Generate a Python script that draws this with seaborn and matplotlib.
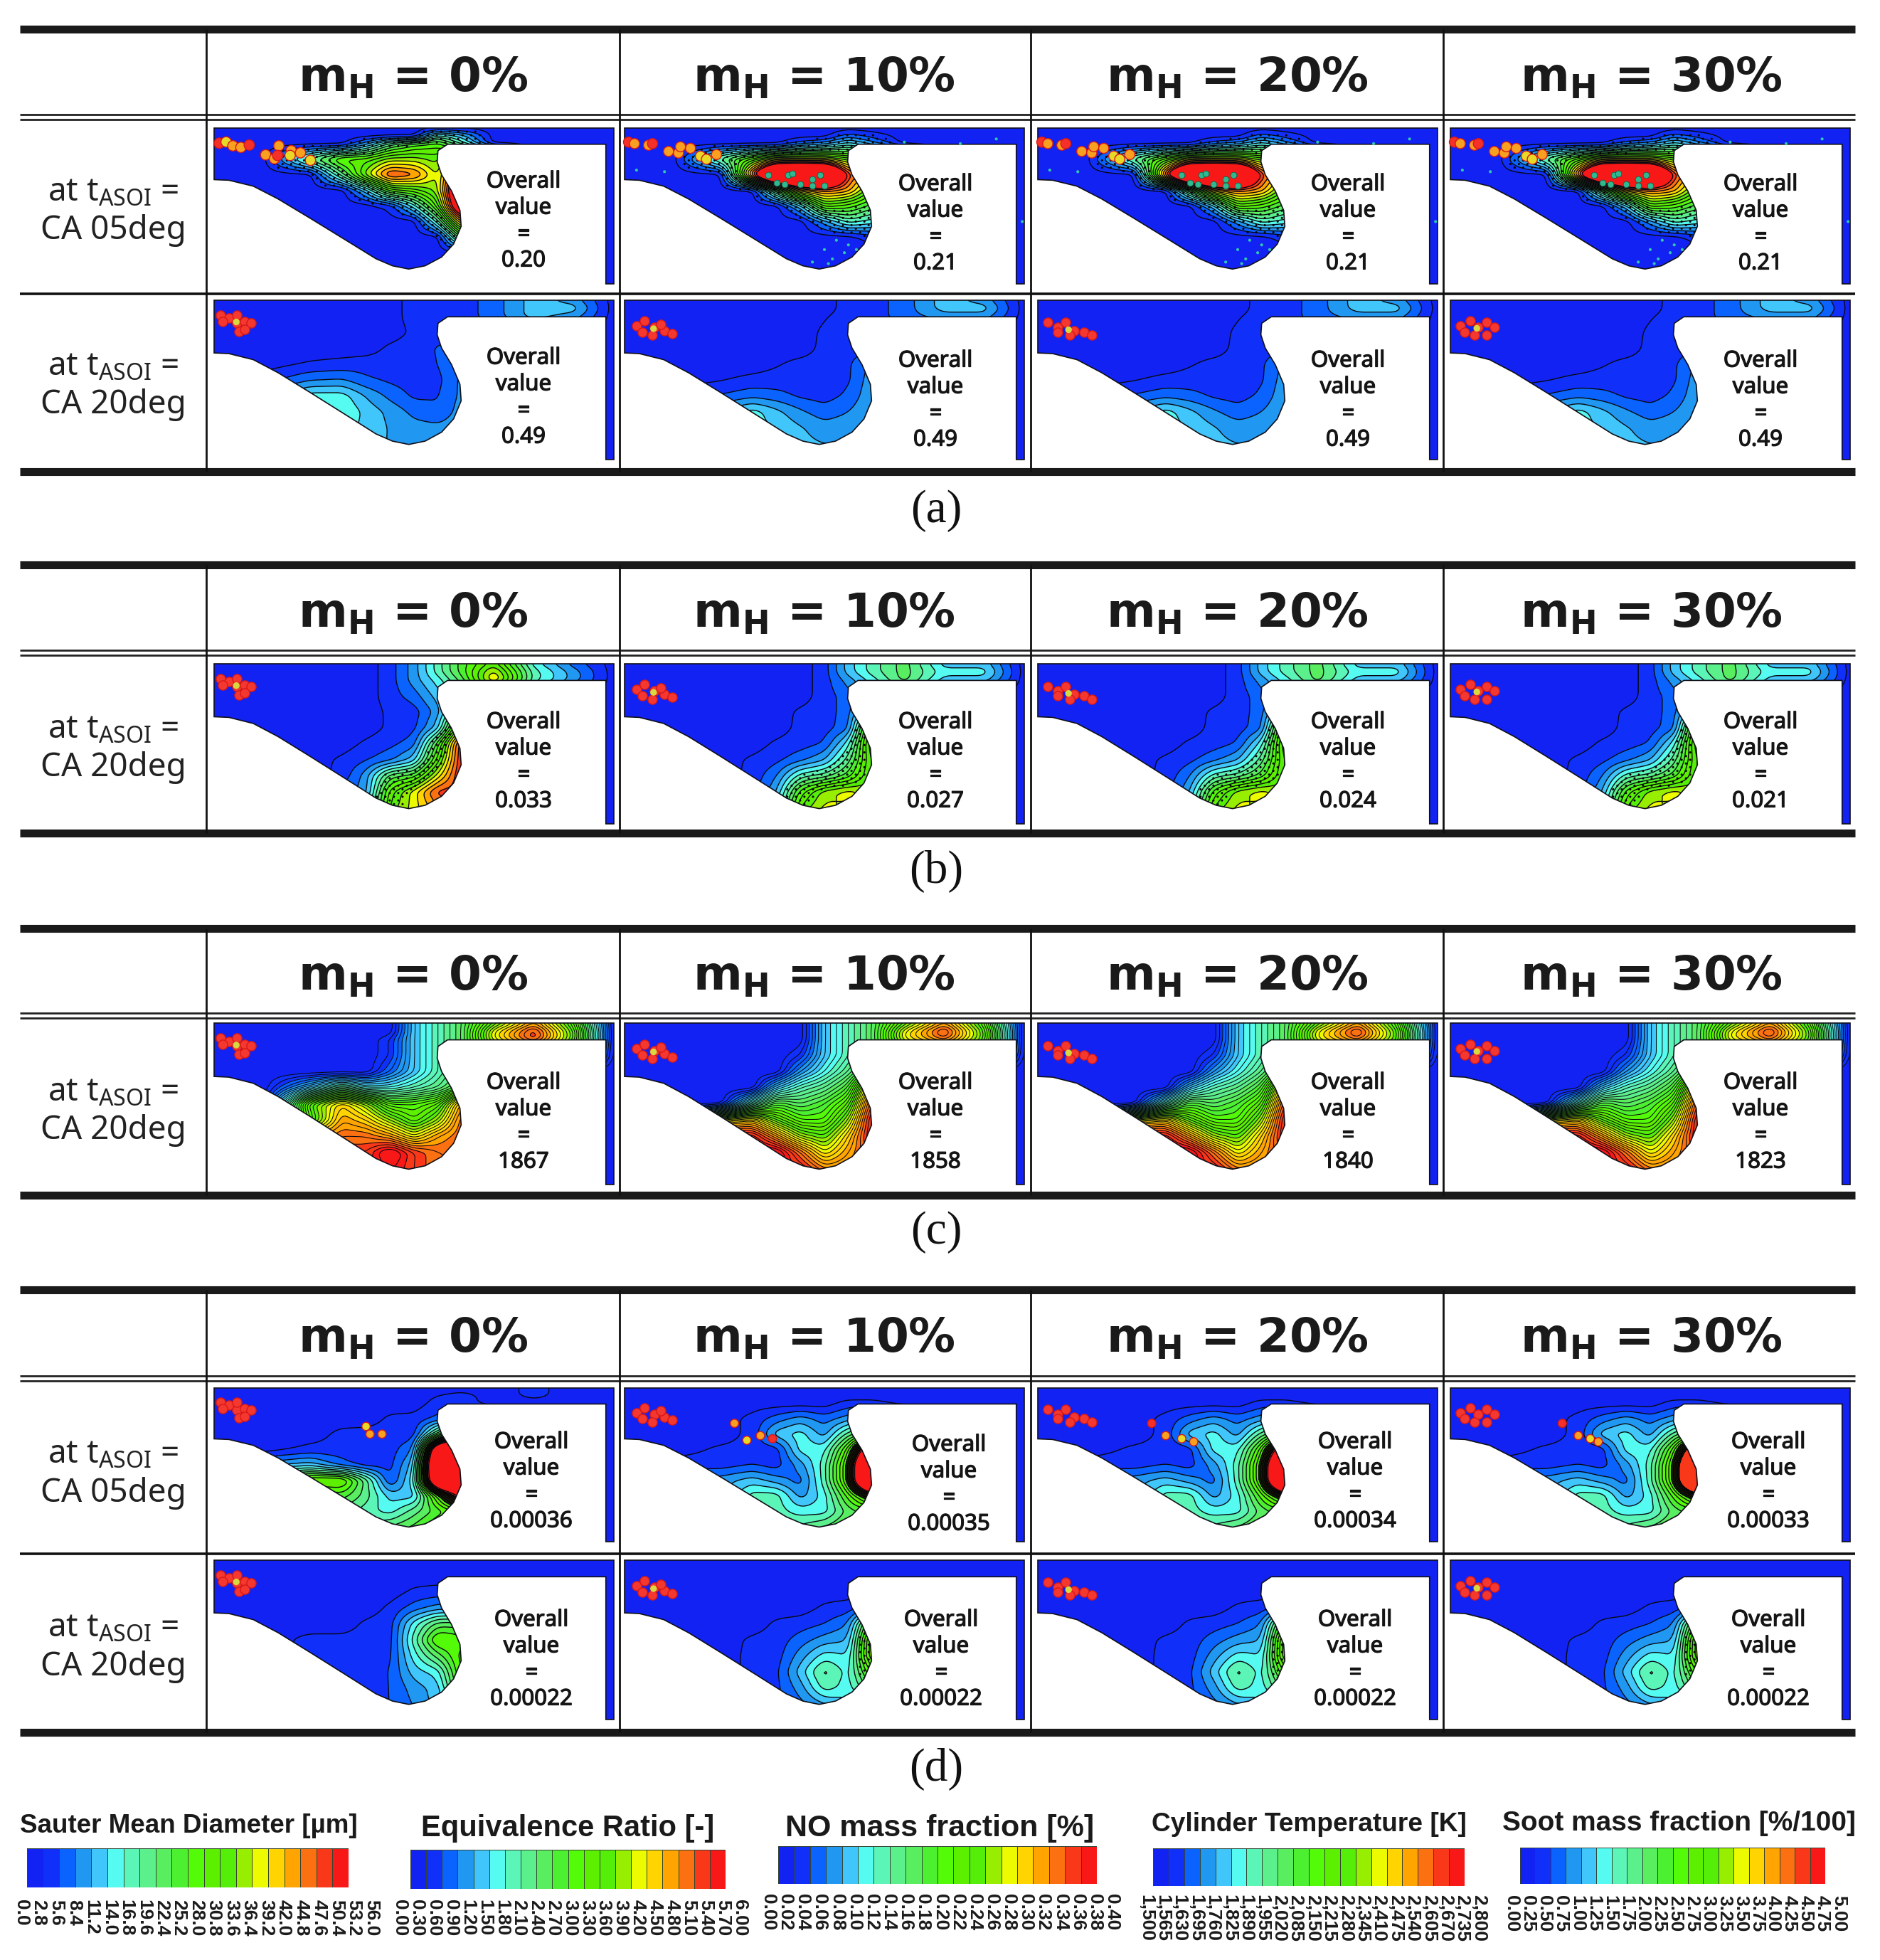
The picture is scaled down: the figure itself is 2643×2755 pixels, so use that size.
import numpy as np
import matplotlib
matplotlib.use("Agg")
import matplotlib.pyplot as plt
import matplotlib.patheffects as pe
from matplotlib.colors import ListedColormap
from matplotlib.patches import Polygon
import seaborn as sns

sns.set_theme(style="white")
plt.rcParams['font.family'] = ['Noto Sans', 'DejaVu Sans']
plt.rcParams['mathtext.fontset'] = 'custom'
plt.rcParams['mathtext.rm'] = 'Noto Sans'

# ---------- data ----------
HEADERS = ["0%", "10%", "20%", "30%"]
ROW_ANGLES = {"a1": "05", "a2": "20", "b": "20", "c": "20", "d1": "05", "d2": "20"}
OVERALL_A1 = ["0.20", "0.21", "0.21", "0.21"]
OVERALL_A2 = ["0.49", "0.49", "0.49", "0.49"]
OVERALL_B = ["0.033", "0.027", "0.024", "0.021"]
OVERALL_C = ["1867", "1858", "1840", "1823"]
OVERALL_D1 = ["0.00036", "0.00035", "0.00034", "0.00033"]
OVERALL_D2 = ["0.00022", "0.00022", "0.00022", "0.00022"]

LEVEL_COLORS = ["#1222f2", "#1030fa", "#0a62ff", "#2098f2", "#40c6fb", "#55fbf0", "#5cf5b8",
                "#5cf08c", "#58ee60", "#4cf030", "#54fb08", "#5cf000", "#54ee08", "#98ee00",
                "#ecfb00", "#ffd400", "#ffa400", "#fb7010", "#f83818", "#f81818"]

U_GRID = [0, .12, .24, .32, .38, .44, .50, .56, .62, .70, .80, .90, 1.0]
V_GRID = [0, .05, .10, .20, .30, .40, .50, .60, .70, .80, .92]

A1_BASE = [[0]*13,
           [0, 0, 0, 0, 0, 0, 0, 6, 4, 0, 0, 0, 0],
           [0, 0, 0, 0, 3, 7, 9, 10, 6, 0, 0, 0, 0],
           [0, 0, 7, 11, 11, 13, 13, 12, 19, 19, 0, 0, 0],
           [0, 0, 0, 7, 13, 18, 17, 13, 22, 22, 0, 0, 0],
           [0, 0, 0, 0, 4, 10, 11, 13, 26, 26, 0, 0, 0],
           [0, 0, 0, 0, 0, .8, 5, 11, 24, 24, 0, 0, 0],
           [0, 0, 0, 0, 0, 0, 0, 6, 16, 16, 0, 0, 0],
           [0, 0, 0, 0, 0, 0, 0, 0, 9, 9, 0, 0, 0],
           [0]*13, [0]*13]
A1_H2 = [[0]*13,
         [0, 0, 0, 0, 0, 0, 0, 2, 1, 0, 0, 0, 0],
         [0, 0, 0, 0, 0, 2, 3, 5, 3, 0, 0, 0, 0],
         [0, 0, 7, 11, 14, 14, 14, 12, 12, 12, 0, 0, 0],
         [0, 0, 0, 18, 30, 32, 30, 18, 14, 14, 0, 0, 0],
         [0, 0, 0, 0, 8, 15, 17, 16, 11, 11, 0, 0, 0],
         [0, 0, 0, 0, 0, 4, 11, 10, 8, 8, 0, 0, 0],
         [0, 0, 0, 0, 0, 0, 3, 6, 5, 5, 0, 0, 0],
         [0, 0, 0, 0, 0, 0, 0, 0, 1, 1, 0, 0, 0],
         [0]*13, [0]*13]
A2_BASE = [[0, 0, 0, 0, 0, 0, 1, 1, 1, 2, 4, 3, 0],
           [0, 0, 0, 0, 0, 0, 1, 1, 1, 2, 4, 4, 0],
           [0, 0, 0, 0, 0, 0, 1, 1, 1, 2, 4, 3, 0],
           [0, 0, 0, 0, 0, 0, .7, 1, 1, 1, 1, 1, 0],
           [0, 0, 0, 0, 0, .7, 1, 1.6, 2, 2, 0, 0, 0],
           [0, 0, .6, .8, 1, 1, 1, 1.5, 2.6, 2.6, 0, 0, 0],
           [0, 1, 2.4, 2.6, 1.7, 1.3, 1, 1.2, 2.8, 2.8, 0, 0, 0],
           [0, 3, 5, 5, 3.4, 2.2, 1.3, 1.4, 2.8, 2.8, 0, 0, 0],
           [0, 3, 6, 5.5, 4.2, 3.2, 2.2, 1.7, 3, 3, 0, 0, 0],
           [0, 3, 5, 5, 4.2, 3.4, 2.9, 2.8, 3.2, 3.2, 0, 0, 0],
           [0, 3, 4, 4, 4, 3.4, 3.2, 3.2, 3.2, 3.2, 0, 0, 0]]
A2_H2 = [[0, 0, 0, 0, 0, 0, 0, 1, 1, 2, 4, 3, 0],
         [0, 0, 0, 0, 0, 0, 0, 1, 1, 2, 4, 4, 0],
         [0, 0, 0, 0, 0, 0, .4, 1, 1, 2, 3, 3, 0],
         [0, 0, 0, 0, 0, 0, .7, .9, 1, 1, 1, 1, 0],
         [0, 0, 0, 0, 0, 0, .8, 1, 1.3, 1.3, 0, 0, 0],
         [0, 0, 0, 0, .4, .8, .9, 1.3, 2.8, 2.8, 0, 0, 0],
         [0, 0, .4, .8, .9, 1, 1, 1.3, 3.2, 3.2, 0, 0, 0],
         [0, 1, 1.6, 2.2, 1.9, 1.3, 1.1, 1.7, 3.4, 3.4, 0, 0, 0],
         [0, 3, 3.5, 5, 3.8, 2.7, 1.9, 2.5, 3.6, 3.6, 0, 0, 0],
         [0, 3, 4, 5, 4.4, 3.6, 3, 3.2, 3.8, 3.8, 0, 0, 0],
         [0, 3, 4, 4.6, 4.2, 3.8, 3.6, 3.6, 3.8, 3.8, 0, 0, 0]]
B_BASE = [[0, 0, 0, 0, 0, 1, 3, 6, 9, 12, 5, 2, 0],
          [0, 0, 0, 0, 0, 1, 3, 6, 9, 14, 6, 3, 0],
          [0, 0, 0, 0, 0, 1, 3, 5, 8, 15, 6, 3, 0],
          [0, 0, 0, 0, 0, 1, 2, 4, 6, 6, 3, 0, 0],
          [0, 0, 0, 0, 0, .7, 1, 3, 9, 9, 0, 0, 0],
          [0, 0, 0, 0, 0, .7, 1.2, 4, 14, 14, 0, 0, 0],
          [0, 0, 0, 0, .7, 1.2, 2, 9, 19, 19, 0, 0, 0],
          [0, 0, 0, .7, 1.4, 2.2, 4, 11, 19, 19, 0, 0, 0],
          [0, 0, 0, .8, 3, 8, 9, 14, 19, 19, 0, 0, 0],
          [0, 0, 0, 2, 3, 11, 14, 18, 18, 18, 0, 0, 0],
          [0, 0, 0, 2, 5, 12, 14, 16, 16, 16, 0, 0, 0]]
B_H2 = [[0, 0, 0, 0, 0, 0, 1, 4, 6, 8, 4, 4, 0],
        [0, 0, 0, 0, 0, 0, 1, 4, 6, 8, 5, 5, 0],
        [0, 0, 0, 0, 0, 0, 1, 3, 5, 8, 4, 4, 0],
        [0, 0, 0, 0, 0, 0, 1, 2, 4, 4, 2, 0, 0],
        [0, 0, 0, 0, 0, .7, 1, 2, 7, 7, 0, 0, 0],
        [0, 0, 0, 0, 0, .8, 1, 2.2, 13, 13, 0, 0, 0],
        [0, 0, 0, 0, .7, 1, 1.6, 5, 14, 14, 0, 0, 0],
        [0, 0, 0, .7, 1.2, 2.2, 3.4, 7, 13, 13, 0, 0, 0],
        [0, 0, 0, .8, 2.4, 6, 7, 9, 13, 13, 0, 0, 0],
        [0, 0, 0, 1, 3.4, 10, 13, 14, 13, 13, 0, 0, 0],
        [0, 0, 0, 1, 5, 12, 14, 13, 12, 12, 0, 0, 0]]
C_BASE = [[0, 0, 0, 0, 0, 0, 4, 6, 8, 12, 16, 11, 0],
          [0, 0, 0, 0, 0, 0, 4, 6, 8, 14, 18, 12, 0],
          [0, 0, 0, 0, 0, 1, 4, 6, 8, 14, 18, 12, 0],
          [0, 0, 0, 0, 0, 1, 4, 6, 8, 9, 9, 9, 0],
          [0, 0, 0, 0, 0, 2, 4, 6, 8, 8, 0, 0, 0],
          [0, 0, 4, 7, 5, 5, 6, 7, 9, 9, 0, 0, 0],
          [0, 0, 12, 15, 13, 10, 10, 11, 16, 16, 0, 0, 0],
          [0, 0, 11, 16, 15, 13, 11, 13, 17, 17, 0, 0, 0],
          [0, 0, 16, 17, 17, 16, 14, 16, 17, 17, 0, 0, 0],
          [0, 0, 18, 18, 18, 20, 18, 17, 17, 17, 0, 0, 0],
          [0, 0, 18, 18, 18, 19, 18, 17, 17, 17, 0, 0, 0]]
C_H2 = [[0, 0, 0, 0, 0, 0, 4, 6, 8, 12, 16, 11, 0],
        [0, 0, 0, 0, 0, 0, 4, 6, 8, 14, 18, 12, 0],
        [0, 0, 0, 0, 0, 0, 4, 6, 8, 14, 17, 12, 0],
        [0, 0, 0, 0, 0, 1, 4, 6, 8, 9, 9, 9, 0],
        [0, 0, 0, 0, 0, 3, 5, 7, 10, 10, 0, 0, 0],
        [0, 0, 0, 0, 4, 6, 7, 9, 16, 16, 0, 0, 0],
        [0, 0, 0, 6, 9, 8, 9, 11, 18, 18, 0, 0, 0],
        [0, 0, 14, 15, 12, 10, 10, 13, 19, 19, 0, 0, 0],
        [0, 0, 19, 19, 16, 13, 12, 15, 19, 19, 0, 0, 0],
        [0, 0, 20, 20, 20, 17, 14, 16, 18, 18, 0, 0, 0],
        [0, 0, 19, 19, 19, 19, 17, 17, 17, 17, 0, 0, 0]]
D1_BASE = [[0, 0, 0, 0, 0, 0, 0, 0, 0, 0, .8, 0, 0],
           [0, 0, 0, 0, 0, 0, 0, .5, .9, 0, .8, 0, 0],
           [0, 0, 0, 0, 0, 0, 0, .9, 1, 0, 0, 0, 0],
           [0, 0, 0, 0, 0, .7, .8, 1.8, 3, 3, 0, 0, 0],
           [0, 0, 0, .8, .9, .9, 1, 8, 14, 14, 0, 0, 0],
           [0, 0, .8, .8, .8, 1, 2.5, 24, 30, 30, 0, 0, 0],
           [0, 3, 4, 2, 1, 1.1, 4, 28, 34, 34, 0, 0, 0],
           [0, 9, 12, 12, 7, 1.3, 5, 26, 30, 30, 0, 0, 0],
           [0, 8, 8, 9, 7, 4, 4, 12, 20, 20, 0, 0, 0],
           [0, 7, 7, 7, 6, 5, 7, 9, 11, 11, 0, 0, 0],
           [0, 7, 7, 7, 7, 8, 9, 11, 11, 11, 0, 0, 0]]
D1_H2 = [[0]*13,
         [0, 0, 0, 0, 0, 0, 0, 0, 0, 0, 0, 0, 0],
         [0, 0, 0, 0, 0, 0, 0, .9, .9, 0, 0, 0, 0],
         [0, 0, 0, .8, 2, 3, 2, 3, 5, 5, 0, 0, 0],
         [0, 0, 0, .8, 4, 5, 3, 7, 9, 9, 0, 0, 0],
         [0, 0, .7, .8, 1, 5, 5, 11, 24, 24, 0, 0, 0],
         [0, 1, 1, 1.5, 1, 3, 6, 13, 34, 34, 0, 0, 0],
         [0, 3, 3, 4, 3, 2, 6, 13, 34, 34, 0, 0, 0],
         [0, 3, 3, 6, 6, 3, 5, 10, 15, 15, 0, 0, 0],
         [0, 5, 5, 5, 6, 5, 5, 8, 9, 9, 0, 0, 0],
         [0, 6, 6, 6, 6, 7, 8, 9, 9, 9, 0, 0, 0]]
D2_BASE = [[0]*13, [0]*13, [0]*13,
           [0, 0, 0, 0, 0, 0, .7, .9, .7, .7, 0, 0, 0],
           [0, 0, 0, 0, 0, .7, 2, 3, 3, 3, 0, 0, 0],
           [0, 0, 0, 0, .7, 1, 5, 8, 8, 8, 0, 0, 0],
           [0, 0, .8, .8, .9, 1, 6, 11, 10, 10, 0, 0, 0],
           [0, 0, .6, .8, .9, 1.2, 5, 8, 11, 11, 0, 0, 0],
           [0, 0, .6, .8, .9, 1.5, 4, 5, 11, 11, 0, 0, 0],
           [0, 0, 0, .8, .9, 1.5, 3, 4, 10, 10, 0, 0, 0],
           [0, 0, 0, .9, .9, 1.5, 2.5, 4, 4, 4, 0, 0, 0]]
D2_H2 = [[0]*13, [0]*13, [0]*13, [0]*13,
         [0, 0, 0, 0, 0, 0, .7, 1, 2, 2, 0, 0, 0],
         [0, 0, 0, 0, .7, 1, 1.5, 2.5, 11, 11, 0, 0, 0],
         [0, 0, 0, .7, .9, 2, 3, 3.5, 14, 14, 0, 0, 0],
         [0, 0, 0, .8, 1, 3, 5, 4.5, 14, 14, 0, 0, 0],
         [0, 0, 0, .8, 1.2, 4, 7, 5, 11, 11, 0, 0, 0],
         [0, 0, 0, .8, 1.2, 3, 6, 5, 8, 8, 0, 0, 0],
         [0, 0, 0, .9, 1.2, 2, 3, 4, 4, 4, 0, 0, 0]]

# chamber outline, fractions of the panel box
WALL_U = [0, .037, .098, .16, .241, .333, .405, .446, .487, .528, .569, .599, .618, .615, .594, .569,
          .558, .56, .584, .98, .98, 1, 1, 0]
WALL_V = [.331, .335, .373, .455, .58, .725, .839, .884, .905, .884, .828, .745, .631, .528, .404, .30,
          .217, .145, .104, .104, 1, 1, 0, 0]

SPRAY_LONG_U = [.013, .03, .047, .067, .088, .129, .151, .162, .159, .193, .216, .241, .19]
SPRAY_LONG_V = [.097, .089, .114, .124, .109, .172, .197, .114, .176, .145, .159, .207, .176]
SPRAY_LONG_C = list("ryoorooorooyy")
SPRAY_H2_U = [.01, .025, .06, .07, .11, .135, .14, .165, .19, .23, .205]
SPRAY_H2_V = [.09, .1, .11, .1, .15, .16, .12, .13, .18, .17, .2]
SPRAY_H2_C = list("roorooooyoy")
TEAL_U = [.36, .41, .38, .40, .44, .47, .49, .42, .47, .50]
TEAL_V = [.30, .30, .35, .36, .36, .37, .30, .29, .33, .37]
SPECK_U = [.50, .52, .55, .53, .47, .56, .58, .51, .03, .10, .93, .70, .84, .995]
SPECK_V = [.78, .84, .80, .72, .86, .75, .78, .87, .27, .28, .07, .09, .10, .60]
CLUSTER_U = [[.016, .037, .057, .077, .093, .063, .022, .077, .057],
             [.03, .05, .075, .1, .12, .07, .09, .045],
             [.025, .05, .07, .09, .115, .135, .05, .08],
             [.025, .05, .07, .09, .11, .06, .09, .035]]
CLUSTER_V = [[.092, .113, .143, .133, .143, .195, .133, .184, .092],
             [.16, .13, .17, .19, .21, .22, .15, .2],
             [.14, .17, .14, .19, .2, .22, .2, .22],
             [.16, .13, .17, .14, .17, .22, .22, .2]]
LATE_U = [[.38, .39, .42], [.275, .306, .34, .37], [.285, .32, .36, .39], [.28, .32, .35, .37]]
LATE_V = [[.25, .3, .3], [.23, .34, .31, .33], [.23, .31, .33, .35], [.23, .31, .33, .35]]
LATE_C = [list("yoo"), list("oyor"), list("royo"), list("royo")]

LEG_TITLES = ["Sauter Mean Diameter [µm]", "Equivalence Ratio [-]", "NO mass fraction [%]",
              "Cylinder Temperature [K]", "Soot mass fraction [%/100]"]
TICK_SMD = ["0.0", "2.8", "5.6", "8.4", "11.2", "14.0", "16.8", "19.6", "22.4", "25.2", "28.0", "30.8",
            "33.6", "36.4", "39.2", "42.0", "44.8", "47.6", "50.4", "53.2", "56.0"]
TICK_ER = ["0.00", "0.30", "0.60", "0.90", "1.20", "1.50", "1.80", "2.10", "2.40", "2.70", "3.00", "3.30",
           "3.60", "3.90", "4.20", "4.50", "4.80", "5.10", "5.40", "5.70", "6.00"]
TICK_NO = ["0.00", "0.02", "0.04", "0.06", "0.08", "0.10", "0.12", "0.14", "0.16", "0.18", "0.20", "0.22",
           "0.24", "0.26", "0.28", "0.30", "0.32", "0.34", "0.36", "0.38", "0.40"]
TICK_T = ["1,500", "1,565", "1,630", "1,695", "1,760", "1,825", "1,890", "1,955", "2,020", "2,085", "2,150",
          "2,215", "2,280", "2,345", "2,410", "2,475", "2,540", "2,605", "2,670", "2,735", "2,800"]
TICK_SOOT = ["0.00", "0.25", "0.50", "0.75", "1.00", "1.25", "1.50", "1.75", "2.00", "2.25", "2.50", "2.75",
             "3.00", "3.25", "3.50", "3.75", "4.00", "4.25", "4.50", "4.75", "5.00"]

# ---------- layout (pixels) ----------
W, H = 2643, 2755
COL_X = [301, 878, 1459, 2039]
PANEL_W = 562
COL_LINES = [290, 871, 1449, 2029]
HEADER_X = [581, 1158, 1739, 2321]
TEXT_X = [736, 1315, 1895, 2475]
TEXT_X_D = [747, 1334, 1905, 2486]
TEXT_X_D2 = [747, 1323, 1905, 2486]
RIGHT = 2608
TABLES = [  # top, double rule, divider, bottom, caption y, label
    (41, 165, 413, 663, 718, "(a)"),
    (794, 918, None, 1171, 1225, "(b)"),
    (1305, 1428, None, 1680, 1732, "(c)"),
    (1813, 1938, 2184, 2435, 2487, "(d)"),
]
DARK = "#111111"

fig = plt.figure(figsize=(W / 100, H / 100), dpi=100, facecolor="white")
ax = fig.add_axes([0, 0, 1, 1])
ax.set_xlim(0, W)
ax.set_ylim(H, 0)
ax.axis("off")

cmap = ListedColormap(sns.color_palette(LEVEL_COLORS, 20))
LEVELS = np.arange(-0.5, 20.5, 1.0)
HALF_LINES = np.arange(0.5, 19.5, 0.5)

# smooth sampling of the read-off value tables
FINE_U = np.arange(0, 1.0001, 1 / 280)
FINE_V = np.arange(0, 1.0001, 1 / 130)


def smooth(field, nu=7, nv=5):
    f = np.asarray(field, float)
    by_v = np.array([np.interp(FINE_V, V_GRID, f[:, j]) for j in range(f.shape[1])]).T
    z = np.array([np.interp(FINE_U, U_GRID, row) for row in by_v])
    for axis, n in ((1, nu), (0, nv)):
        kernel = np.ones(n) / n
        for _ in range(2):
            z = np.apply_along_axis(
                lambda a: np.convolve(np.pad(a, n, mode="edge"), kernel, mode="same")[n:-n], axis, z)
    return z


def draw_panel(x0, y0, y1, field, cap=19.4, lines=LEVELS[1:], lw=1.0, band=None, dots=None):
    h = y1 - y0
    X, Y = np.meshgrid(x0 + FINE_U * PANEL_W, y0 + FINE_V * h)
    z = np.minimum(smooth(field), cap)
    wall = Polygon(np.c_[x0 + np.array(WALL_U) * PANEL_W, y0 + np.array(WALL_V) * h],
                   closed=True, fc=LEVEL_COLORS[0], ec="none", zorder=1)
    ax.add_patch(wall)
    cf = ax.contourf(X, Y, z, levels=LEVELS, cmap=cmap, vmin=-0.5, vmax=19.5, zorder=2)
    cf.set_clip_path(wall)
    cl = ax.contour(X, Y, z, levels=lines, colors="#080810", linewidths=lw, zorder=3)
    cl.set_clip_path(wall)
    if band is not None:
        cb = ax.contourf(X, Y, z, levels=list(band), colors=["#050505"], alpha=0.9, zorder=3)
        cb.set_clip_path(wall)
    if dots is not None:
        lo, hi, vmin = dots
        j, i = np.mgrid[0:z.shape[0], 0:z.shape[1]]
        keep = (i % 3 == 0) & (j % 3 == 0) & (((i // 3) + (j // 3)) % 2 == 0)
        keep &= (z > lo) & (z < hi) & (Y > y0 + vmin * h)
        pts = ax.scatter(X[keep], Y[keep], s=5, c="#050505", edgecolors="none", zorder=3)
        pts.set_clip_path(wall)
    ax.add_patch(Polygon(wall.get_xy(), closed=True, fc="none", ec="#101018", lw=1.2, zorder=4))


def droplets(x0, y0, y1, us, vs, cs=None, size=85, edge="#d81818"):
    names = {"r": "#f43028", "o": "#f8a020", "y": "#e8d828"}
    h = y1 - y0
    cols = [names[c] for c in cs] if cs else "#f43830"
    ax.scatter(x0 + np.array(us) * PANEL_W, y0 + np.array(vs) * h, s=size, c=cols,
               edgecolors=edge, linewidths=1.0, zorder=5)


def overall(x, yc, val):
    for i, t in enumerate(["Overall", "value", "=", val]):
        ax.text(x, yc + (i - 1.5) * 37, t, ha="center", va="center", fontsize=22.5, color="#151515",
                family="Noto Sans",
                path_effects=[pe.withStroke(linewidth=0.9, foreground="#151515")])


def left_label(yc, angle):
    ax.text(159, yc - 27, r"at t$_{\mathregular{ASOI}}$ =", ha="center", va="center", fontsize=33,
            color="#222222", family="Noto Sans")
    ax.text(159, yc + 27, f"CA {angle}deg", ha="center", va="center", fontsize=33,
            color="#222222", family="Noto Sans")


def table(top, dbl, div, bot, cap_y, label):
    ax.plot([28, RIGHT], [top, top], color="k", lw=8, solid_capstyle="butt", zorder=6)
    ax.plot([28, RIGHT], [bot, bot], color="k", lw=8, solid_capstyle="butt", zorder=6)
    for dy in (dbl - 4, dbl + 3):
        ax.plot([28, RIGHT], [dy, dy], color="#222222", lw=2.0, solid_capstyle="butt", zorder=6)
    if div is not None:
        ax.plot([28, RIGHT], [div, div], color=DARK, lw=2.6, solid_capstyle="butt", zorder=6)
    for x in COL_LINES:
        ax.plot([x, x], [top, bot], color=DARK, lw=2.0, solid_capstyle="butt", zorder=6)
    for x, lab in zip(HEADER_X, HEADERS):
        ax.text(x, (top + dbl) / 2 + 7, r"m$_{\mathregular{H}}$ = " + lab, ha="center", va="center",
                fontsize=47.5, fontweight="bold", family="DejaVu Sans", color="k")
    ax.text(1316, cap_y, label, ha="center", va="center", fontsize=47, family="Liberation Serif", color="#111111")


for t in TABLES:
    table(*t)

ROWS = [
    ("a1", 180, 399, A1_BASE, A1_H2, OVERALL_A1, 311, TEXT_X, [0, 0, 0, 0]),
    ("a2", 422, 646, A2_BASE, A2_H2, OVERALL_A2, 559, TEXT_X, [0, 0, 0, 0]),
    ("b", 933, 1158, B_BASE, B_H2, OVERALL_B, 1071, TEXT_X, [0, 0, 0, 0]),
    ("c", 1438, 1665, C_BASE, C_H2, OVERALL_C, 1578, TEXT_X, [0, 0, 0, 0]),
    ("d1", 1951, 2167, D1_BASE, D1_H2, OVERALL_D1, 2083, TEXT_X_D, [0, 4, 0, 0]),
    ("d2", 2193, 2417, D2_BASE, D2_H2, OVERALL_D2, 2333, TEXT_X_D2, [0, 0, 0, 0]),
]
LEFT_Y = {"a1": 297, "a2": 542, "b": 1052, "c": 1562, "d1": 2072, "d2": 2316}
D1_CAPS = [19.4, 19.4, 19.4, 18.4]
DOTS = {"a1": (1.0, 9.0, 0.0), "b": (6.5, 13.0, 0.25)}
DOTS_H2 = {"a1": (1.0, 9.5, 0.0), "b": (5.5, 12.0, 0.25), "d2": (7.5, 14.0, 0.3)}

for name, y0, y1, base, h2, vals, yc, tx, dy in ROWS:
    left_label(LEFT_Y[name], ROW_ANGLES[name])
    for c in range(4):
        fld = base if c == 0 else h2
        cap = D1_CAPS[c] if name == "d1" else 19.4
        band = (12.5, 17.5) if name == "d1" else None
        lines = HALF_LINES if name == "c" else LEVELS[1:]
        draw_panel(COL_X[c], y0, y1, fld, cap, lines=lines, lw=0.75 if name == "c" else 1.0, band=band,
                   dots=(DOTS if c == 0 else DOTS_H2).get(name))
        overall(tx[c], yc + dy[c] + (4 if c and name in ("a1", "a2") else 0), vals[c])
        if name == "a1":
            if c == 0:
                droplets(COL_X[c], y0, y1, SPRAY_LONG_U, SPRAY_LONG_V, SPRAY_LONG_C, 110)
            else:
                droplets(COL_X[c], y0, y1, SPRAY_H2_U, SPRAY_H2_V, SPRAY_H2_C, 105)
                ax.scatter(COL_X[c] + np.array(TEAL_U) * PANEL_W, y0 + np.array(TEAL_V) * (y1 - y0),
                           s=40, c="#30b890", edgecolors="#106040", linewidths=0.6, zorder=5)
                ax.scatter(COL_X[c] + np.array(SPECK_U) * PANEL_W, y0 + np.array(SPECK_V) * (y1 - y0),
                           s=9, c="#30c8b0", edgecolors="none", zorder=5)
        else:
            droplets(COL_X[c], y0, y1, CLUSTER_U[c], CLUSTER_V[c], None, 90)
            if name in ("a2", "b", "c", "d2"):
                ax.scatter(COL_X[c] + np.mean(CLUSTER_U[c]) * PANEL_W, y0 + np.mean(CLUSTER_V[c]) * (y1 - y0),
                           s=45, c="#d8d840", edgecolors="none", zorder=6)
            if name == "d1":
                droplets(COL_X[c], y0, y1, LATE_U[c], LATE_V[c], LATE_C[c], 70)

# ---------- colour legends ----------
LEGENDS = [
    (LEG_TITLES[0], TICK_SMD, 38, 490, 2598, 2653, 265, 2567, 30, 522, 2670, 26.5),
    (LEG_TITLES[1], TICK_ER, 577, 1020, 2600, 2655, 798, 2570, 562, 1040, 2670, 30),
    (LEG_TITLES[2], TICK_NO, 1094, 1542, 2595, 2648, 1321, 2570, 1080, 1563, 2662, 31),
    (LEG_TITLES[3], TICK_T, 1621, 2059, 2598, 2651, 1840, 2565, 1611, 2079, 2663, 26.7),
    (LEG_TITLES[4], TICK_SOOT, 2137, 2566, 2597, 2648, 2360, 2563, 2125, 2585, 2664, 28),
]
for title, ticks, x0, x1, y0, y1, tx, ty, lx0, lx1, ly, tfs in LEGENDS:
    cax = fig.add_axes([x0 / W, 1 - y1 / H, (x1 - x0) / W, (y1 - y0) / H])
    sns.heatmap(np.arange(20).reshape(1, -1), cmap=cmap, vmin=-0.5, vmax=19.5, cbar=False, ax=cax,
                xticklabels=False, yticklabels=False, linewidths=0.7, linecolor="#334433")
    ax.text(tx, ty, title, ha="center", va="center", fontsize=tfs, fontweight="bold", color="k",
            family=["Liberation Sans Narrow", "Liberation Sans"])
    for x, lab in zip(np.linspace(lx0, lx1, len(ticks)), ticks):
        ax.text(x, ly, lab, rotation=-90, ha="center", va="top", fontsize=19, fontweight="bold",
                family="Liberation Sans", color="k")

fig.savefig("out.png", dpi=100, facecolor="white")
